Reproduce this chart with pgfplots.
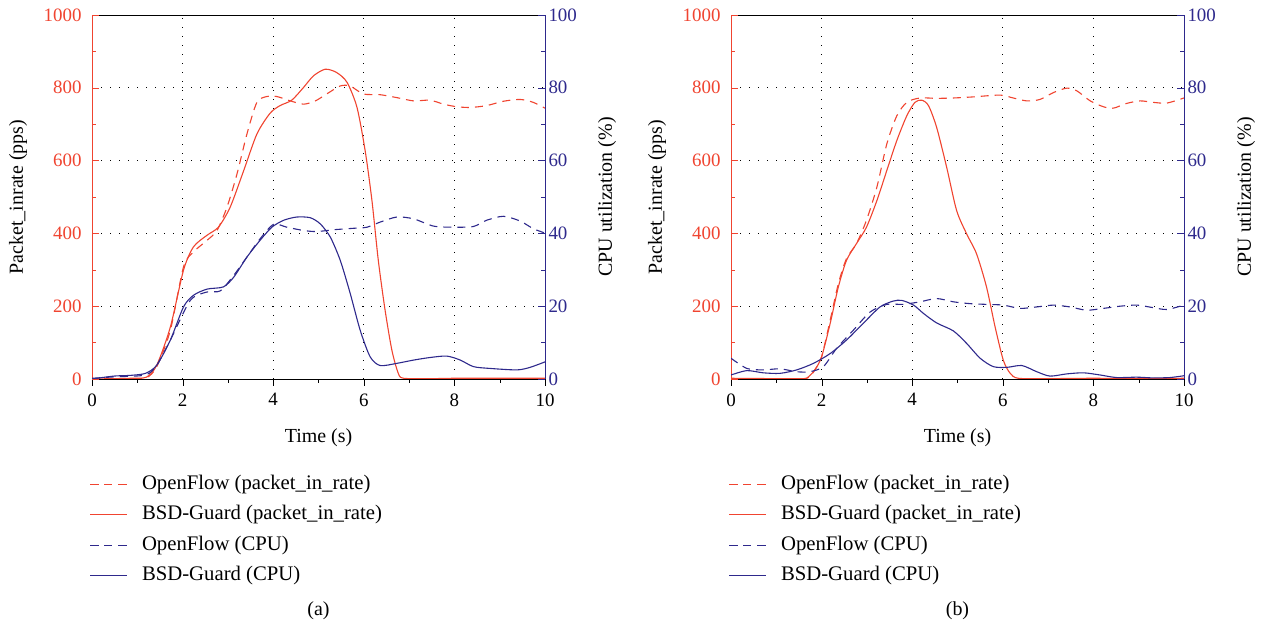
\documentclass[border=0pt]{standalone}
\usepackage{fontspec}
\setmainfont{Liberation Serif}
\usepackage{pgfplots}
\pgfplotsset{compat=1.18}
\definecolor{cred}{RGB}{240,68,48}
\definecolor{cblue}{RGB}{46,41,140}
\pgfplotsset{
  base/.style={scale only axis, width=453bp, height=364bp, xmin=0, xmax=10,
    major tick length=7bp, minor tick length=4bp,
    /pgf/number format/assume math mode=true,
    /pgf/number format/1000 sep={},
    tick label style={font=\fontsize{19}{22}\selectfont}},
  redax/.style={base, ymin=0, ymax=1000, ytick={0,200,...,1000}, minor y tick num=1},
  blueax/.style={base, ymin=0, ymax=100, ytick={0,20,...,100}, minor y tick num=1},
  mainax/.style={redax, xtick={0,2,...,10}, minor x tick num=1, xtick pos=left, ytick pos=left,
    separate axis lines,
    tick align=outside, ytick style={draw=none}, xtick style={black},
    grid=major, major grid style={black, dash pattern=on 1bp off 8bp, line width=0.8bp},
    y axis line style={cred}, x axis line style={black},
    yticklabel style={cred},
    ylabel={Packet\_inrate (pps)}, xlabel={Time (s)},
    every axis y label/.style={at={(axis description cs:-0.163,0.5)}, rotate=90, anchor=center, font=\fontsize{20}{24}\selectfont},
    every axis x label/.style={at={(axis description cs:0.5,-0.16)}, anchor=center, font=\fontsize{20}{24}\selectfont},
    xticklabel style={yshift=-4bp}},
  leftax/.style={redax, axis y line*=left, axis x line=none, tick align=inside,
    yticklabels={}, y axis line style={cred, line width=0.9bp}, ytick style={cred}},
  rightax/.style={blueax, axis y line*=right, axis x line=none, tick align=inside,
    y axis line style={cblue, line width=0.9bp}, ytick style={cblue}, yticklabel style={cblue},
    ylabel={CPU utilization (\%)},
    every axis y label/.style={at={(axis description cs:1.137,0.5)}, rotate=90, anchor=center, font=\fontsize{20}{24}\selectfont},
    legend style={at={(axis description cs:-0.005,-0.258)}, anchor=north west, draw=none, fill=none,
      font=\fontsize{20.8}{24}\selectfont, row sep=8.6bp, column sep=13bp, inner sep=0pt,
      nodes={inner sep=2bp, text height=14bp, text depth=4bp}},
    legend cell align=left,
    legend image code/.code={\draw[##1] plot coordinates {(0bp,0bp) (18bp,0bp) (36bp,0bp)};}},
  ofr/.style={cred, line width=1.1bp, dash pattern=on 8bp off 6bp, smooth, tension=0.45},
  bsr/.style={cred, line width=1.1bp, smooth, tension=0.45},
  ofb/.style={cblue, line width=1.1bp, dash pattern=on 8bp off 6bp, smooth, tension=0.45},
  bsb/.style={cblue, line width=1.1bp, smooth, tension=0.45},
}
\begin{document}
\begin{tikzpicture}
\path[use as bounding box] (0,0) rectangle (1261bp,627bp);
% ---------------- panel (a)
\begin{axis}[mainax, at={(92bp,248bp)}, anchor=south west]
\addplot[ofr] coordinates {(0,0) (0.5,0) (0.9,1) (1.21,4) (1.43,34) (1.73,134) (2.02,308) (2.24,349) (2.54,381) (2.76,408) (2.98,472) (3.20,563) (3.42,673) (3.64,760) (3.86,776) (4.08,776) (4.38,764) (4.67,755) (4.93,764) (5.18,783) (5.48,805) (5.70,805) (5.99,783) (6.36,781) (6.73,773) (7.10,764) (7.46,766) (7.76,755) (8.05,748) (8.35,746) (8.71,751) (9.08,763) (9.45,768) (9.74,760) (10,744)};
\addplot[bsr] coordinates {(0,0) (0.48,1) (0.85,2) (1.2,5) (1.43,38) (1.73,143) (2.02,299) (2.24,363) (2.54,395) (2.79,417) (3.05,472) (3.35,573) (3.64,673) (3.93,730) (4.15,751) (4.41,766) (4.67,801) (4.89,833) (5.15,851) (5.40,842) (5.63,815) (5.85,746) (6.03,627) (6.18,490) (6.32,326) (6.47,189) (6.62,79) (6.76,16) (6.88,2) (7.5,1) (8,2) (9,2) (10,2)};
\end{axis}
\begin{axis}[leftax, at={(92bp,248bp)}, anchor=south west]
\end{axis}
\begin{axis}[rightax, at={(92bp,248bp)}, anchor=south west]
\addlegendimage{ofr}\addlegendentry{OpenFlow (packet\_in\_rate)}
\addlegendimage{bsr}\addlegendentry{BSD-Guard (packet\_in\_rate)}
\addplot[ofb] coordinates {(0,0.2) (0.5,0.6) (1.18,1.1) (1.43,3.8) (1.73,10.7) (2.17,21.6) (2.54,23.9) (2.83,24.2) (3.13,28.5) (3.42,33.5) (3.71,38.5) (4.01,42.5) (4.30,41.7) (4.67,40.8) (4.96,40.5) (5.33,41) (5.77,41.4) (6.07,41.7) (6.36,43.1) (6.73,44.5) (7.10,44) (7.54,42) (7.98,41.7) (8.42,41.9) (8.71,43.6) (9.08,44.7) (9.45,43.4) (9.74,41.3) (10,40.1)};
\addlegendentry{OpenFlow (CPU)}
\addplot[bsb] coordinates {(0,0) (0.48,0.8) (0.85,1.0) (1.18,1.55) (1.43,3.8) (1.73,10.7) (2.02,19.8) (2.24,23) (2.54,24.7) (2.90,25.3) (3.13,28) (3.42,33.5) (3.71,38.1) (3.97,41.7) (4.23,43.6) (4.52,44.5) (4.82,44.3) (5.04,42.6) (5.26,39) (5.48,32.6) (5.70,23.5) (5.92,13.4) (6.14,6.1) (6.36,3.7) (6.73,4.3) (7.10,5.2) (7.46,5.9) (7.83,6.3) (8.13,5.2) (8.42,3.4) (8.79,2.9) (9.38,2.5) (9.67,3.2) (10,4.7)};
\addlegendentry{BSD-Guard (CPU)}
\end{axis}
% ---------------- panel (b)
\begin{axis}[mainax, at={(731bp,248bp)}, anchor=south west]
\addplot[ofr] coordinates {(0,0) (1,0) (1.67,2) (1.85,25) (2.0,61) (2.19,162) (2.37,262) (2.55,331) (2.77,372) (2.99,436) (3.22,527) (3.44,646) (3.66,723) (3.88,760) (4.17,772) (4.54,771) (4.91,772) (5.35,775) (5.94,780) (6.23,772) (6.53,764) (6.82,768) (7.12,787) (7.41,799) (7.63,792) (7.93,764) (8.22,748) (8.44,744) (8.73,757) (9.03,764) (9.32,760) (9.62,758) (10,772)};
\addplot[bsr] coordinates {(0,2) (1,1) (1.6,1) (1.71,6) (1.85,25) (2.0,61) (2.19,153) (2.37,253) (2.55,326) (2.77,372) (2.99,417) (3.22,490) (3.44,573) (3.66,655) (3.88,723) (4.06,760) (4.21,766) (4.36,751) (4.54,691) (4.76,582) (4.98,463) (5.20,399) (5.42,344) (5.64,253) (5.83,143) (6.01,52) (6.16,16) (6.34,2) (7,1) (8,2) (9,1) (10,2)};
\end{axis}
\begin{axis}[leftax, at={(731bp,248bp)}, anchor=south west]
\end{axis}
\begin{axis}[rightax, at={(731bp,248bp)}, anchor=south west]
\addlegendimage{ofr}\addlegendentry{OpenFlow (packet\_in\_rate)}
\addlegendimage{bsr}\addlegendentry{BSD-Guard (packet\_in\_rate)}
\addplot[ofb] coordinates {(0,5.7) (0.35,2.9) (0.71,2.5) (1.08,2.8) (1.45,2.0) (1.74,2.0) (2.04,3.4) (2.33,8.4) (2.70,13.4) (3.07,18.4) (3.44,20.5) (3.80,20.5) (4.17,21.2) (4.54,22.1) (4.91,21.2) (5.28,20.7) (5.64,20.5) (6.01,20.3) (6.38,19.4) (6.75,19.8) (7.12,20.3) (7.48,19.8) (7.85,18.9) (8.22,19.4) (8.59,20.0) (8.96,20.3) (9.32,19.6) (9.62,19.1) (10,20.3)};
\addlegendentry{OpenFlow (CPU)}
\addplot[bsb] coordinates {(0,1.1) (0.35,2.3) (0.71,1.7) (1.08,1.55) (1.45,2.5) (1.82,4.3) (2.19,7.0) (2.55,10.7) (2.92,15.3) (3.29,19.8) (3.58,21.4) (3.77,21.6) (4.03,20.3) (4.25,18.0) (4.54,15.4) (4.91,13.2) (5.20,9.8) (5.50,5.7) (5.79,3.4) (6.09,3.2) (6.42,3.7) (6.75,2.0) (7.04,0.8) (7.41,1.4) (7.78,1.7) (8.15,1.1) (8.51,0.4) (8.96,0.5) (9.32,0.3) (9.69,0.4) (10,0.9)};
\addlegendentry{BSD-Guard (CPU)}
\end{axis}
\node[font=\fontsize{20}{24}\selectfont] at (318.5bp,16bp) {(a)};
\node[font=\fontsize{20}{24}\selectfont] at (957.5bp,16bp) {(b)};
\end{tikzpicture}
\end{document}
